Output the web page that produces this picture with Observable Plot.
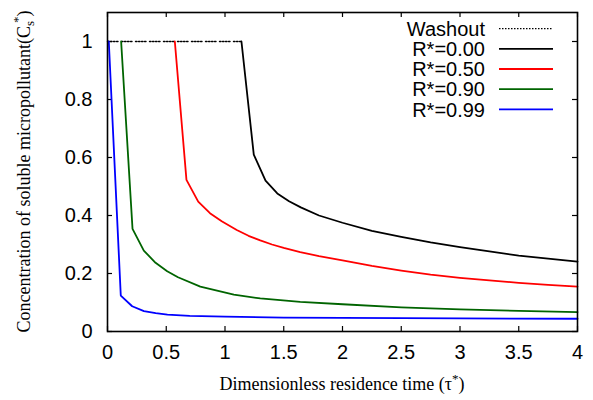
<!DOCTYPE html>
<html>
<head>
<meta charset="utf-8">
<script src="https://cdn.jsdelivr.net/npm/d3@7"></script>
<script src="https://cdn.jsdelivr.net/npm/@observablehq/plot@0.6"></script>
<style>
  html, body { margin: 0; padding: 0; background: white; }
</style>
</head>
<body>
<div id="chart"></div>
<script>
// ---- data ----
const xTicks = [0, 0.5, 1, 1.5, 2, 2.5, 3, 3.5, 4];
const xTickLabels = ["0", "0.5", "1", "1.5", "2", "2.5", "3", "3.5", "4"];
const yTicks = [0, 0.2, 0.4, 0.6, 0.8, 1];
const yTickLabels = ["0", "0.2", "0.4", "0.6", "0.8", "1"];

const washoutTau = [0, 1.14];
const washoutC = [1, 1];

const tauR000 = [1.14, 1.245, 1.345, 1.445, 1.545, 1.645, 1.8, 2.0, 2.25, 2.5, 2.75, 3.0, 3.25, 3.5, 3.75, 4.0];
const cR000   = [1.0, 0.61, 0.52, 0.476, 0.449, 0.428, 0.400, 0.375, 0.347, 0.326, 0.307, 0.291, 0.276, 0.262, 0.251, 0.241];

const tauR050 = [0.573, 0.672, 0.772, 0.872, 0.972, 1.1, 1.2, 1.3, 1.4, 1.5, 1.64, 1.8, 2.0, 2.25, 2.5, 2.75, 3.0, 3.25, 3.5, 3.75, 4.0];
const cR050   = [1.0, 0.523, 0.448, 0.408, 0.38, 0.35, 0.33, 0.314, 0.30, 0.288, 0.274, 0.260, 0.245, 0.226, 0.21, 0.196, 0.185, 0.176, 0.168, 0.161, 0.155];

const tauR090 = [0.116, 0.213, 0.309, 0.409, 0.508, 0.6, 0.79, 1.075, 1.3, 1.64, 2.0, 2.5, 3.0, 3.5, 4.0];
const cR090   = [1.0, 0.354, 0.279, 0.237, 0.208, 0.187, 0.155, 0.127, 0.114, 0.102, 0.094, 0.083, 0.076, 0.071, 0.067];

const tauR099 = [0.011, 0.113, 0.21, 0.31, 0.41, 0.51, 0.7, 1.0, 1.5, 2.0, 3.0, 4.0];
const cR099   = [1.0, 0.124, 0.087, 0.07, 0.063, 0.058, 0.054, 0.051, 0.048, 0.047, 0.045, 0.044];

const seriesNames = ["R*=0.00", "R*=0.50", "R*=0.90", "R*=0.99"];
const seriesColors = ["#000000", "#ff0000", "#006400", "#0000ff"];
const seriesTau = [tauR000, tauR050, tauR090, tauR099];
const seriesC = [cR000, cR050, cR090, cR099];

// ---- build tables ----
const toRows = (ts, cs) => ts.map((t, i) => ({tau: t, c: cs[i]}));
const washoutRows = toRows(washoutTau, washoutC);
const seriesRows = seriesTau.map((ts, k) => toRows(ts, seriesC[k]));

const W = 593, H = 400;
const mL = 107, mR = 16, mT = 12, mB = 69;
const pw = W - mL - mR, ph = H - mT - mB;
const tickLen = 5;
const dotted = "1.5,1.5,1.5,1.5,1.5,1.5,1.5,3.5";

const chart = Plot.plot({
  width: W, height: H,
  marginLeft: mL, marginRight: mR, marginTop: mT, marginBottom: mB,
  x: {domain: [0, 4]},
  y: {domain: [0, 1.1]},
  style: {fontFamily: "'Liberation Sans', Arial, sans-serif", fontSize: "20px", background: "white", color: "black"},
  marks: [
    // inward ticks on all four sides
    Plot.ruleX(xTicks, {x: d => d, insetTop: ph - tickLen, stroke: "black", strokeWidth: 1.2}),
    Plot.ruleX(xTicks, {x: d => d, insetBottom: ph - tickLen, stroke: "black", strokeWidth: 1.2}),
    Plot.ruleY(yTicks, {y: d => d, insetRight: pw - tickLen, stroke: "black", strokeWidth: 1.2}),
    Plot.ruleY(yTicks, {y: d => d, insetLeft: pw - tickLen, stroke: "black", strokeWidth: 1.2}),
    Plot.axisX(xTicks, {tickSize: 0, tickPadding: 13, tickFormat: (d, i) => xTickLabels[i], fontSize: 20, label: null}),
    Plot.axisY(yTicks, {tickSize: 0, tickPadding: 15, tickFormat: (d, i) => yTickLabels[i], fontSize: 20, label: null}),
    Plot.line(washoutRows, {x: "tau", y: "c", stroke: "black", strokeWidth: 1.4, strokeDasharray: dotted}),
    ...seriesRows.map((rows, k) => Plot.line(rows, {x: "tau", y: "c", stroke: seriesColors[k], strokeWidth: 1.8})),
    Plot.frame({stroke: "black", strokeWidth: 1.6})
  ]
});

document.getElementById("chart").appendChild(chart);

// ---- axis titles and legend ----
const svg = d3.select(chart);
const serif = "'Liberation Serif', 'Times New Roman', serif";

const xt = svg.append("text")
  .attr("x", mL + pw / 2).attr("y", 390)
  .attr("text-anchor", "middle")
  .attr("font-family", serif).attr("font-size", 18).attr("fill", "black");
xt.append("tspan").text("Dimensionless residence time (τ");
xt.append("tspan").attr("dy", -7).attr("font-size", 13).text("*");
xt.append("tspan").attr("dy", 7).text(")");

const yt = svg.append("text")
  .attr("transform", `translate(30,${mT + ph / 2}) rotate(-90)`)
  .attr("text-anchor", "middle")
  .attr("font-family", serif).attr("font-size", 18).attr("fill", "black");
yt.append("tspan").text("Concentration of soluble micropollutant(C");
yt.append("tspan").attr("dy", 4).attr("font-size", 13).text("s");
yt.append("tspan").attr("dy", -12).attr("dx", -2).attr("font-size", 13).text("*");
yt.append("tspan").attr("dy", 8).text(")");

const legendNames = ["Washout", ...seriesNames];
const legendColors = ["#000000", ...seriesColors];
const lg = svg.append("g").attr("font-family", "'Liberation Sans', Arial, sans-serif").attr("font-size", 20);
legendNames.forEach((name, i) => {
  const y = 28.7 + i * 20.15;
  lg.append("text").attr("x", 485).attr("y", y).attr("dy", "0.36em")
    .attr("text-anchor", "end").attr("fill", "black").text(name);
  lg.append("line").attr("x1", 499).attr("x2", 553).attr("y1", y).attr("y2", y)
    .attr("stroke", legendColors[i])
    .attr("stroke-width", i === 0 ? 1.2 : 1.8)
    .attr("stroke-dasharray", i === 0 ? "1.5,1.5" : null);
});
</script>
</body>
</html>
